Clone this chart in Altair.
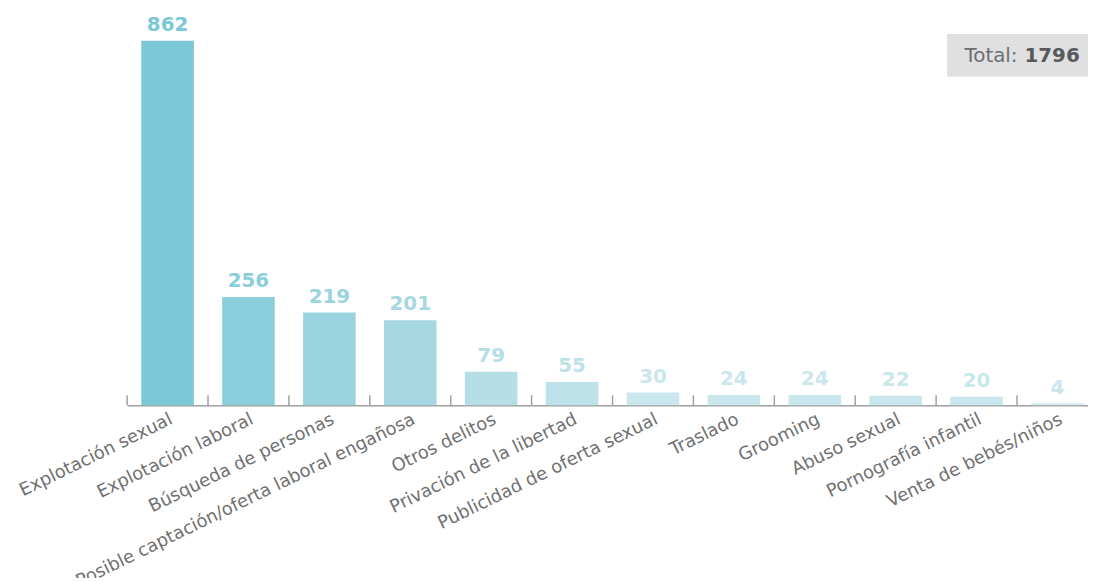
import altair as alt
import pandas as pd

categories = [
    "Explotación sexual",
    "Explotación laboral",
    "Búsqueda de personas",
    "Posible captación/oferta laboral engañosa",
    "Otros delitos",
    "Privación de la libertad",
    "Publicidad de oferta sexual",
    "Traslado",
    "Grooming",
    "Abuso sexual",
    "Pornografía infantil",
    "Venta de bebés/niños",
]
values = [862, 256, 219, 201, 79, 55, 30, 24, 24, 22, 20, 4]
colors = ["#7BC8D7", "#8BCEDB", "#9AD4DF", "#A7D8E2", "#B5DEE7", "#BEE2E9",
          "#C9E7EC", "#C9E7EC", "#C9E7EC", "#C9E7EC", "#C9E7EC", "#C9E7EC"]
total = sum(values)

FONT = "DejaVu Sans"
W, H = 968, 367

df = pd.DataFrame({"cat": categories, "val": values, "col": colors})
tot_df = pd.DataFrame({"label": ["Total:"], "total": [str(total)]})

xenc = alt.X("cat:N", sort=categories, title=None,
             scale=alt.Scale(range=[0, 978], paddingInner=0, paddingOuter=0),
             axis=alt.Axis(labelAngle=-26, labelFont=FONT, labelFontSize=18,
                           labelColor="#707070", labelPadding=5, ticks=False,
                           domainColor="#A0A0A0", domainWidth=1.5, labelLimit=600))
yenc = alt.Y("val:Q", scale=alt.Scale(domain=[0, 862], nice=False, zero=True),
             axis=None)

base = alt.Chart(df)
bars = base.mark_bar(width=alt.RelativeBandSize(0.65)).encode(
    x=xenc, y=yenc, color=alt.Color("col:N", scale=None))
labels = base.mark_text(font=FONT, fontWeight="bold", fontSize=20, baseline="bottom", dy=-6).encode(
    x=alt.X("cat:N", sort=categories), y="val:Q", text="val:Q", color=alt.Color("col:N", scale=None))
ticks = base.mark_rule(color="#A0A0A0", strokeWidth=1.5).encode(
    x=alt.X("cat:N", sort=categories, bandPosition=0),
    y=alt.value(H - 10), y2=alt.value(H))

tb = alt.Chart(tot_df)
box = tb.mark_rect(color="#E0E0E0").encode(
    x=alt.value(826), x2=alt.value(1000), y=alt.value(-7), y2=alt.value(36))
t1 = tb.mark_text(font=FONT, fontSize=20, color="#6D6E71", align="right", baseline="middle").encode(
    x=alt.value(897), y=alt.value(15), text="label:N")
t2 = tb.mark_text(font=FONT, fontSize=20, fontWeight="bold", color="#58595B", align="left", baseline="middle").encode(
    x=alt.value(904), y=alt.value(15), text="total:N")

chart = alt.layer(bars, labels, ticks, box, t1, t2).properties(
    width=W, height=H,
    autosize=alt.AutoSizeParams(type="none"),
    padding={"left": 120, "top": 31, "right": 0, "bottom": 172},
).configure_view(stroke=None)

chart.save("out.html", embed_options={"renderer": "svg", "actions": False})
